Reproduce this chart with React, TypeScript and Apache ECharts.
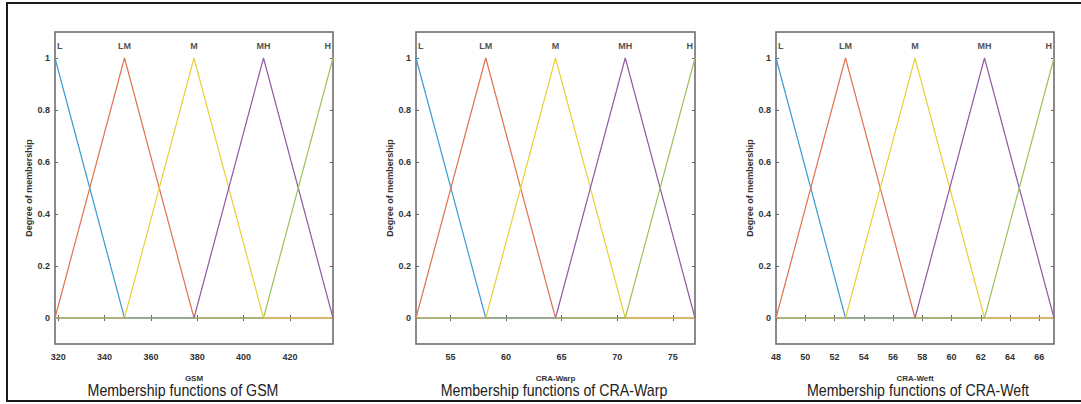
import React, { useEffect, useRef } from "react";
import * as echarts from "echarts";

const mfNames = ["L", "LM", "M", "MH", "H"];
const mfColors = ["#3a9bd2", "#e2724f", "#e9d03a", "#8f5aa2", "#9cc25e"];

const gsmPeaks = [318.6, 348.6, 378.6, 408.6, 438.6];
const warpPeaks = [51.9, 58.175, 64.45, 70.725, 77.0];
const weftPeaks = [48, 52.75, 57.5, 62.25, 67];

const gsmTicks = [320, 340, 360, 380, 400, 420];
const warpTicks = [55, 60, 65, 70, 75];
const weftTicks = [48, 50, 52, 54, 56, 58, 60, 62, 64, 66];
const yTicks = [0, 0.2, 0.4, 0.6, 0.8, 1];

const panelNames = ["GSM", "CRA-Warp", "CRA-Weft"];
const panelTitles = [
  "Membership functions of GSM",
  "Membership functions of CRA-Warp",
  "Membership functions of CRA-Weft",
];

const panels = [
  { peaks: gsmPeaks, ticks: gsmTicks, left: 55, width: 278, titleX: 183 },
  { peaks: warpPeaks, ticks: warpTicks, left: 416, width: 279, titleX: 554 },
  { peaks: weftPeaks, ticks: weftTicks, left: 776, width: 278, titleX: 918 },
];

function mfData(peaks: number[], i: number): number[][] {
  const min = peaks[0];
  const max = peaks[peaks.length - 1];
  const pts: number[][] = [];
  if (i === 0) pts.push([min, 1]);
  else {
    pts.push([min, 0]);
    if (peaks[i - 1] > min) pts.push([peaks[i - 1], 0]);
    pts.push([peaks[i], 1]);
  }
  if (i < peaks.length - 1) {
    pts.push([peaks[i + 1], 0]);
    if (peaks[i + 1] < max) pts.push([max, 0]);
  }
  return pts;
}

const axisColor = "#666";
const textColor = "#333";

export default function App() {
  const ref = useRef<HTMLDivElement>(null);
  useEffect(() => {
    document.body.style.margin = "0";
    const chart = echarts.init(ref.current!, undefined, { renderer: "svg" });
    const grids: any[] = [];
    const xAxes: any[] = [];
    const yAxes: any[] = [];
    const series: any[] = [];
    const graphics: any[] = [];

    panels.forEach((p, g) => {
      const min = p.peaks[0];
      const max = p.peaks[p.peaks.length - 1];
      grids.push({
        left: p.left,
        top: 32,
        width: p.width,
        height: 312,
        show: true,
        borderColor: axisColor,
        borderWidth: 1.5,
        backgroundColor: "#fff",
      });
      const tickCommon = {
        show: true,
        inside: true,
        length: 3,
        lineStyle: { color: axisColor, width: 1 },
      };
      xAxes.push({
        gridIndex: g,
        type: "value",
        min,
        max,
        position: "bottom",
        axisLine: { show: false },
        splitLine: { show: false },
        axisTick: { ...tickCommon, customValues: p.ticks },
        axisLabel: {
          customValues: p.ticks,
          fontSize: 9,
          fontWeight: "bold",
          color: textColor,
          margin: 8,
          fontFamily: "Liberation Sans",
        },
        name: panelNames[g],
        nameLocation: "middle",
        nameGap: 30,
        nameTextStyle: {
          fontSize: 8,
          fontWeight: "bold",
          color: textColor,
          fontFamily: "Liberation Sans",
        },
      });
      xAxes.push({
        gridIndex: g,
        type: "value",
        min,
        max,
        position: "top",
        axisLine: { show: false },
        splitLine: { show: false },
        axisTick: { ...tickCommon, customValues: p.ticks },
        axisLabel: { show: false },
      });
      yAxes.push({
        gridIndex: g,
        type: "value",
        min: -0.1,
        max: 1.1,
        position: "left",
        axisLine: { show: false },
        splitLine: { show: false },
        axisTick: { ...tickCommon, customValues: yTicks },
        axisLabel: {
          customValues: yTicks,
          fontSize: 9,
          fontWeight: "bold",
          color: textColor,
          margin: 5,
          fontFamily: "Liberation Sans",
        },
        name: "Degree of membership",
        nameLocation: "middle",
        nameGap: 22,
        nameTextStyle: {
          fontSize: 9,
          fontWeight: "bold",
          color: textColor,
          fontFamily: "Liberation Sans",
        },
      });
      yAxes.push({
        gridIndex: g,
        type: "value",
        min: -0.1,
        max: 1.1,
        position: "right",
        axisLine: { show: false },
        splitLine: { show: false },
        axisTick: { ...tickCommon, customValues: yTicks },
        axisLabel: { show: false },
      });

      mfNames.forEach((name, i) => {
        series.push({
          type: "line",
          name: name + g,
          xAxisIndex: g * 2,
          yAxisIndex: g * 2,
          data: mfData(p.peaks, i),
          showSymbol: false,
          symbol: "none",
          lineStyle: { color: mfColors[i], width: 1.2 },
          itemStyle: { color: mfColors[i] },
          silent: true,
        });
      });
      series.push({
        type: "scatter",
        xAxisIndex: g * 2,
        yAxisIndex: g * 2,
        symbolSize: 1,
        itemStyle: { color: "rgba(0,0,0,0)" },
        silent: true,
        data: mfNames.map((name, i) => ({
          value: [p.peaks[i], 1, name],
          label: {
            show: true,
            position: "top",
            distance: 7,
            formatter: name,
            fontSize: 9,
            fontWeight: "bold",
            color: "#222",
            fontFamily: "Liberation Sans",
            align: i === 0 ? "left" : i === mfNames.length - 1 ? "right" : "center",
            offset: i === 0 ? [2, 0] : i === mfNames.length - 1 ? [-2, 0] : [0, 0],
          },
        })),
      });

      graphics.push({
        type: "text",
        x: p.titleX,
        y: 390,
        scaleX: 0.835,
        style: {
          text: panelTitles[g],
          fontSize: 17,
          fontFamily: "Liberation Sans",
          fill: "#222",
          align: "center",
          verticalAlign: "middle",
        },
      });
    });

    graphics.push({
      type: "rect",
      shape: { x: 7, y: 3, width: 1080, height: 398 },
      style: { fill: "none", stroke: "#1a1a1a", lineWidth: 2 },
      silent: true,
    });

    chart.setOption({
      animation: false,
      backgroundColor: "#fff",
      grid: grids,
      xAxis: xAxes,
      yAxis: yAxes,
      series,
      graphic: graphics,
    });
    return () => chart.dispose();
  }, []);
  return <div ref={ref} style={{ width: 1081, height: 404 }} />;
}
